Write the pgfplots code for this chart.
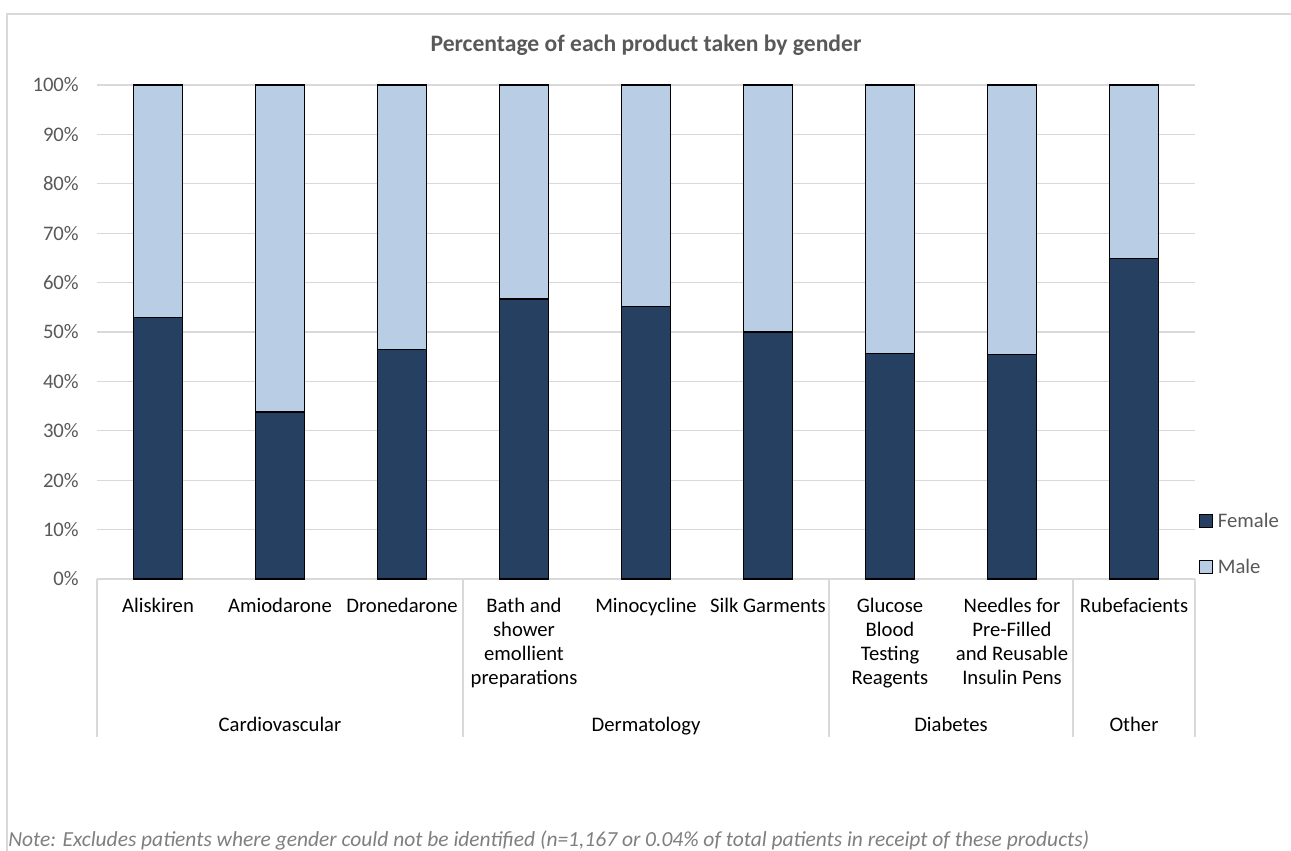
\documentclass[border=0pt]{standalone}
\usepackage{fontspec}
\setmainfont{Carlito}
\usepackage{pgfplots}
\pgfplotsset{compat=1.18}
\definecolor{fem}{HTML}{264061}
\definecolor{mal}{HTML}{B9CDE5}
\definecolor{gridc}{HTML}{D9D9D9}
\definecolor{txt}{HTML}{595959}
\definecolor{notec}{HTML}{7F7F7F}
\begin{document}
\begin{tikzpicture}[font=\fontsize{15.5}{18}\selectfont]
\begin{scope}[x=0.75pt,y=0.75pt]
\useasboundingbox (0,0) rectangle (1291,850);
\fill[white] (0,0) rectangle (1291,850);
\draw[gridc, line width=1pt] (7,-30) rectangle (1330,836);
\node[anchor=center, text=txt, font=\fontsize{17.7}{21}\selectfont\bfseries] at (646,805) {Percentage of each product taken by gender};
\node[anchor=base west, inner sep=0pt, text=notec, font=\fontsize{16.1}{19}\selectfont\itshape] at (8,4) {Note: Excludes patients where gender could not be identified (n=1,167 or 0.04\% of total patients in receipt of these products)};
\end{scope}
\begin{axis}[
  at={(72.75pt,203.25pt)}, anchor=south west,
  width=823.5pt, height=370.5pt, scale only axis,
  ybar stacked, bar width=36.75pt,
  xmin=-0.5, xmax=8.5, ymin=0, ymax=100,
  xtick={0,...,8},
  xticklabels={Aliskiren, Amiodarone, Dronedarone, {Bath and\\shower\\emollient\\preparations}, Minocycline, Silk Garments, {Glucose\\Blood\\Testing\\Reagents}, {Needles for\\Pre-Filled\\and Reusable\\Insulin Pens}, Rubefacients},
  ytick={0,10,...,100},
  yticklabel={\pgfmathprintnumber{\tick}\%},
  /pgf/number format/assume math mode=true,
  major tick length=0pt,
  axis line style={draw=none},
  ymajorgrids, grid style={gridc, line width=1pt},
  clip=false,
  tick label style={font=\fontsize{15.5}{18}\selectfont},
  xticklabel style={anchor=north, align=center, inner sep=0pt, yshift=-14pt, text=black},
  yticklabel style={anchor=east, inner sep=0pt, xshift=-13.5pt, text=txt},
  legend style={draw=none, fill=none, at={(1.0036,0.0711)}, anchor=west, inner sep=0pt, row sep=18.3pt, text=txt, font=\fontsize{15.5}{18}\selectfont},
  legend cell align=left,
]
\addplot[fill=fem, draw=black, line width=1pt, legend image code/.code={\draw[fill=fem,draw=black,line width=0.75pt] (0pt,-4.875pt) rectangle (9.75pt,4.875pt);}] coordinates {(0,53.0) (1,33.8) (2,46.4) (3,56.7) (4,55.2) (5,50.0) (6,45.7) (7,45.4) (8,64.9)};
\addlegendentry{\hspace{1.5pt}Female}
\addplot[fill=mal, draw=black, line width=1pt, legend image code/.code={\draw[fill=mal,draw=black,line width=0.75pt] (0pt,-4.875pt) rectangle (9.75pt,4.875pt);}] coordinates {(0,47.0) (1,66.2) (2,53.6) (3,43.3) (4,44.8) (5,50.0) (6,54.3) (7,54.6) (8,35.1)};
\addlegendentry{\hspace{1.5pt}Male}
\foreach \s in {-0.5,2.5,5.5,7.5,8.5} {
  \edef\tmp{\noexpand\draw[gridc, line width=1pt] (axis cs:\s,0) -- (axis cs:\s,-31.98);}\tmp
}
\node[anchor=base, text=black] at (axis cs:1,-30.77) {Cardiovascular};
\node[anchor=base, text=black] at (axis cs:4,-30.77) {Dermatology};
\node[anchor=base, text=black] at (axis cs:6.5,-30.77) {Diabetes};
\node[anchor=base, text=black] at (axis cs:8,-30.77) {Other};
\end{axis}
\end{tikzpicture}
\end{document}
